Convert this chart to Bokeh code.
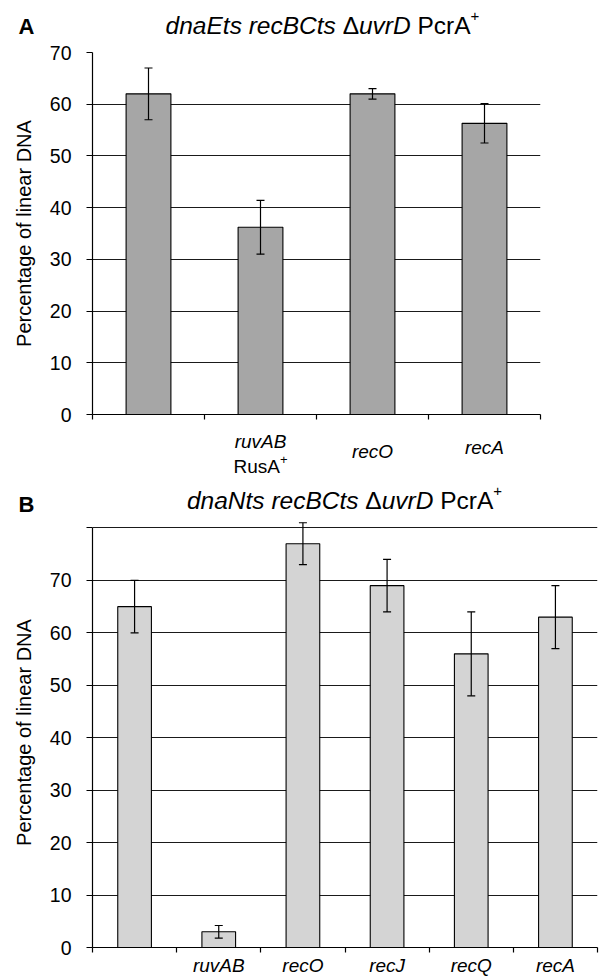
from bokeh.plotting import figure
from bokeh.models import FixedTicker, Label, Whisker, ColumnDataSource, Range1d, TeeHead, LinearAxis
from bokeh.layouts import column
from bokeh.embed import file_html
from bokeh.resources import INLINE

# ---------------- data ----------------
a_labels_top = ["", "ruvAB", "recO", "recA"]
a_labels_bottom = ["", "RusA", "", ""]
a_values = [62.0, 36.2, 62.0, 56.3]
a_errors = [5.0, 5.2, 1.0, 3.8]
a_yticks = [0, 10, 20, 30, 40, 50, 60, 70]

b_labels = ["", "ruvAB", "recO", "recJ", "recQ", "recA"]
b_values = [65.0, 3.0, 77.0, 69.0, 56.0, 63.0]
b_errors = [5.0, 1.2, 4.0, 5.0, 8.0, 6.0]
b_yticks = [0, 10, 20, 30, 40, 50, 60, 70, 80]

# title pieces: (text, style, space after)
a_title = [("dnaEts recBCts", "italic", True), ("\u0394", "normal", False),
           ("uvrD", "italic", True), ("PcrA", "normal", False)]
b_title = [("dnaNts recBCts", "italic", True), ("\u0394", "normal", False),
           ("uvrD", "italic", True), ("PcrA", "normal", False)]

FONT = "Liberation Sans"
LEFT = 92
W = {'d': 556, 'n': 556, 'a': 556, 'E': 667, 'N': 722, 't': 278, 's': 500, ' ': 278,
     'r': 333, 'e': 556, 'c': 500, 'B': 667, 'C': 722, '\u0394': 668, 'u': 556, 'v': 500,
     'D': 722, 'P': 667, 'A': 667, '+': 584, 'R': 722}


def tw(s, size):
    return sum(W.get(ch, 556) for ch in s) / 1000.0 * size


def lab(p, text, x, y, size, style="normal", align="left", baseline="middle", xo=0):
    p.add_layout(Label(x=x, y=y, x_offset=xo, text=text, text_font=FONT,
                       text_font_size=f"{size}px", text_font_style=style, text_color="black",
                       text_align=align, text_baseline=baseline))


def strip(h, fw, br, x_range, letter=None, letter_y=0.0, letter_standoff=58):
    s = figure(frame_width=fw, frame_height=h, min_border_left=LEFT, min_border_right=br,
               min_border_top=0, min_border_bottom=0, output_backend="svg",
               toolbar_location=None, x_axis_type=None,
               y_axis_type="linear" if letter else None,
               x_range=x_range, y_range=Range1d(0, h))
    s.outline_line_color = None
    s.background_fill_color = "white"
    s.border_fill_color = "white"
    s.grid.visible = False
    if letter:
        ax = s.yaxis[0]
        ax.ticker = FixedTicker(ticks=[letter_y])
        ax.major_label_overrides = {letter_y: letter}
        ax.axis_line_color = None
        ax.major_tick_line_color = None
        ax.minor_tick_line_color = None
        ax.major_tick_out = 0
        ax.major_tick_in = 0
        ax.major_label_standoff = letter_standoff
        ax.major_label_text_font = FONT
        ax.major_label_text_font_size = "22px"
        ax.major_label_text_font_style = "bold"
        ax.major_label_text_color = "black"
    return s


def add_title(s, pieces, cx, ty, size, sup, raise_px):
    total = 0.0
    for t, _, sp in pieces:
        total += tw(t, size) + (tw(" ", size) if sp else 0)
    total += tw("+", sup)
    x = cx - total / 2.0
    for t, style, sp in pieces:
        lab(s, t, 0, ty, size, style, xo=x - LEFT)
        x += tw(t, size) + (tw(" ", size) if sp else 0)
    lab(s, "+", 0, ty + raise_px, sup, xo=x - LEFT)


def base_fig(ncat, ymax, ytop, fw, fh, br, bt, bb, yticks, bar_color, values, errors):
    p = figure(frame_width=fw, frame_height=fh, min_border_left=LEFT, min_border_right=br,
               min_border_top=bt, min_border_bottom=bb, output_backend="svg",
               toolbar_location=None, x_range=Range1d(0, ncat), y_range=Range1d(0, ymax))
    p.outline_line_color = None
    p.background_fill_color = "white"
    p.border_fill_color = "white"
    p.xgrid.visible = False
    p.ygrid.ticker = FixedTicker(ticks=yticks)
    p.ygrid.grid_line_color = "#1a1a1a"
    p.ygrid.grid_line_width = 1.2

    p.yaxis.ticker = FixedTicker(ticks=yticks)
    p.yaxis.bounds = (0, ytop)
    p.yaxis.major_label_overrides = {t: ("" if t > 70 else str(t)) for t in yticks}
    p.yaxis.major_tick_out = 6
    p.yaxis.major_tick_in = 0
    p.yaxis.minor_tick_line_color = None
    p.yaxis.major_label_text_font = FONT
    p.yaxis.major_label_text_font_size = "19.5px"
    p.yaxis.major_label_text_color = "black"
    p.yaxis.major_label_standoff = 15
    p.yaxis.axis_label = "Percentage of linear DNA"
    p.yaxis.axis_label_text_font = FONT
    p.yaxis.axis_label_text_font_size = "20px"
    p.yaxis.axis_label_text_font_style = "normal"
    p.yaxis.axis_label_text_color = "black"
    p.yaxis.axis_label_standoff = 12
    p.yaxis.axis_line_color = "black"
    p.yaxis.axis_line_width = 1.2
    p.yaxis.major_tick_line_color = "black"
    p.yaxis.major_tick_line_width = 1.2

    p.xaxis.ticker = FixedTicker(ticks=list(range(ncat + 1)))
    p.xaxis.major_label_overrides = {t: "" for t in range(ncat + 1)}
    p.xaxis.major_label_text_font_size = "0px"
    p.xaxis.major_label_text_color = None
    p.xaxis.major_label_standoff = 0
    p.xaxis.major_tick_out = 5
    p.xaxis.major_tick_in = 0
    p.xaxis.minor_tick_line_color = None
    p.xaxis.axis_line_color = "black"
    p.xaxis.axis_line_width = 1.2
    p.xaxis.major_tick_line_color = "black"
    p.xaxis.major_tick_line_width = 1.2

    xs = [i + 0.5 for i in range(ncat)]
    src = ColumnDataSource(dict(x=xs, top=values,
                                upper=[v + e for v, e in zip(values, errors)],
                                lower=[v - e for v, e in zip(values, errors)]))
    p.vbar(x="x", top="top", bottom=0, width=0.4, source=src, fill_color=bar_color,
           line_color="black", line_width=1.1)
    w = Whisker(base="x", upper="upper", lower="lower", source=src, level="overlay",
                line_color="black", line_width=1.2,
                upper_head=TeeHead(size=8, line_color="black", line_width=1.2),
                lower_head=TeeHead(size=8, line_color="black", line_width=1.2))
    p.add_layout(w)
    return p, xs


# ---------------- panel A (page rows 0..480) ----------------
pa, xa = base_fig(4, 70, 70, 448, 362, 59, 12, 12, a_yticks, "#a6a6a6", a_values, a_errors)  # 40..426
ta = strip(40, 448, 59, pa.x_range, letter="A", letter_y=40 - 26)                # rows 0..40
add_title(ta, a_title, 322, 40 - 25, 24.5, 15, 10)
la = strip(54, 448, 59, pa.x_range)                                              # rows 426..480
a_center_y = {1: 441, 2: 451, 3: 447}
for i, (t1, t2) in enumerate(zip(a_labels_top, a_labels_bottom)):
    if t1:
        lab(la, t1, xa[i], 480 - a_center_y[i], 19, "italic", "center")
    if t2:
        wmain = tw(t2, 19)
        wsup = tw("+", 13)
        lab(la, t2, xa[i], 480 - 466, 19, xo=-(wmain + wsup) / 2.0)
        lab(la, "+", xa[i], 480 - 459, 13, xo=-(wmain + wsup) / 2.0 + wmain)

# ---------------- panel B (page rows 480..977) ----------------
pb, xb = base_fig(6, 82, 80, 505, 430, 2, 0, 30, b_yticks, "#d4d4d4", b_values, b_errors)  # 517..977
cat_axis = LinearAxis(ticker=FixedTicker(ticks=xb),
                      major_label_overrides={x: t for x, t in zip(xb, b_labels)},
                      axis_line_color=None, major_tick_line_color=None,
                      minor_tick_line_color=None, major_tick_out=0, major_tick_in=0,
                      major_label_standoff=2, major_label_text_font=FONT,
                      major_label_text_font_size="19px", major_label_text_font_style="italic",
                      major_label_text_color="black")
pb.add_layout(cat_axis, "below")
tb = strip(37, 505, 2, pb.x_range, letter="B", letter_y=517 - 503.5)             # rows 480..517
add_title(tb, b_title, 344, 517 - 500, 24.5, 15, 10)

layout = column(ta, pa, la, tb, pb, spacing=0)
open("out.html", "w").write(file_html(layout, INLINE))
